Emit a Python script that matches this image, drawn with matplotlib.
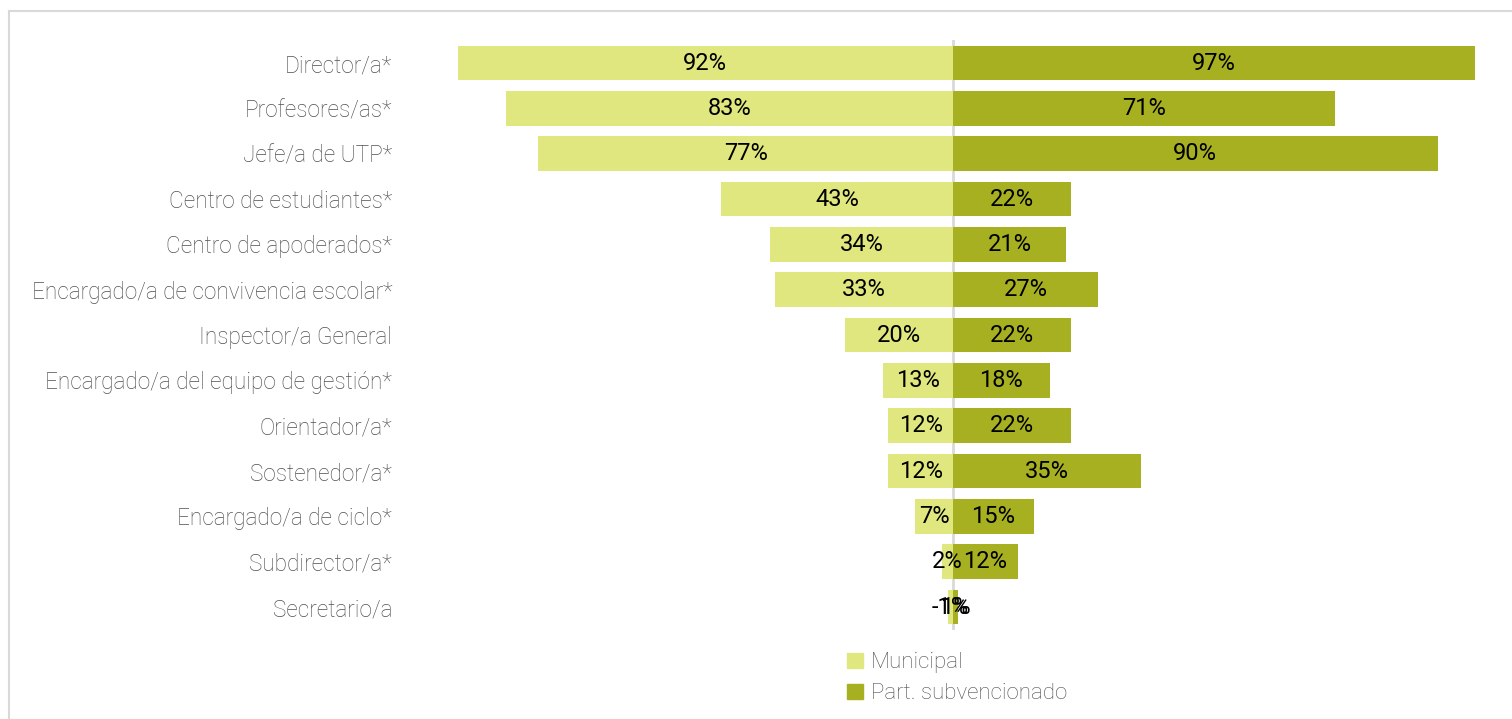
import matplotlib
matplotlib.use("Agg")
import matplotlib.pyplot as plt
from matplotlib.lines import Line2D
from matplotlib.patches import Patch

# Data
categories = [
    "Director/a*", "Profesores/as*", "Jefe/a de UTP*", "Centro de estudiantes*",
    "Centro de apoderados*", "Encargado/a de convivencia escolar*",
    "Inspector/a General", "Encargado/a del equipo de gestión*",
    "Orientador/a*", "Sostenedor/a*", "Encargado/a de ciclo*",
    "Subdirector/a*", "Secretario/a",
]
municipal = [92, 83, 77, 43, 34, 33, 20, 13, 12, 12, 7, 2, 1]
subvencionado = [97, 71, 90, 22, 21, 27, 22, 18, 22, 35, 15, 12, 1]
series_names = ["Municipal", "Part. subvencionado"]

c_light = "#DFE77E"
c_dark = "#A6B021"
txt_gray = "#505050"

plt.rcParams['font.family'] = ['Roboto', 'DejaVu Sans']

fig = plt.figure(figsize=(15.12, 7.19), dpi=100)
ax = fig.add_axes([0.2741, 0.1242, 0.7123, 0.8197])

y = list(range(len(categories)))
left_vals = [-v for v in municipal]
ax.barh(y, left_vals, height=0.77, color=c_light, zorder=2)
ax.barh(y, subvencionado, height=0.77, color=c_dark, zorder=2)
ax.axvline(0, color="#D9D9D9", linewidth=2, zorder=1)

for i in y:
    m = municipal[i]
    s = subvencionado[i]
    # last row shows the negative value text as in the original
    m_txt = f"-{m}%" if i == len(categories) - 1 else f"{m}%"
    ax.text(-m / 2, i, m_txt, ha="center", va="center", fontsize=17,
            color="black", zorder=3)
    ax.text(s / 2, i, f"{s}%", ha="center", va="center", fontsize=17,
            color="black", zorder=3)

ax.set_xlim(-100, 100)
ax.set_ylim(12.5, -0.5)
ax.set_yticks(y)
ax.set_yticklabels(categories, fontsize=16.3, color=txt_gray, fontweight="light")
ax.tick_params(axis="y", length=0, pad=16)
ax.set_xticks([])
for sp in ax.spines.values():
    sp.set_visible(False)

# legend
handles = [Patch(color=c_light), Patch(color=c_dark)]
leg = fig.legend(handles, series_names, loc="upper left",
                 bbox_to_anchor=(0.553, 0.108), frameon=False,
                 fontsize=16, handlelength=0.7, handleheight=0.7,
                 handletextpad=0.35, labelspacing=0.45, borderpad=0)
for t in leg.get_texts():
    t.set_color(txt_gray)
    t.set_fontweight("light")

# outer frame
fig.add_artist(Line2D([9 / 1512, 9 / 1512], [0, 1 - 11 / 719],
                      color="#D9D9D9", linewidth=1.5, transform=fig.transFigure))
fig.add_artist(Line2D([9 / 1512, 1], [1 - 11 / 719, 1 - 11 / 719],
                      color="#D9D9D9", linewidth=1.5, transform=fig.transFigure))

fig.savefig("out.png", dpi=100, facecolor="white")
